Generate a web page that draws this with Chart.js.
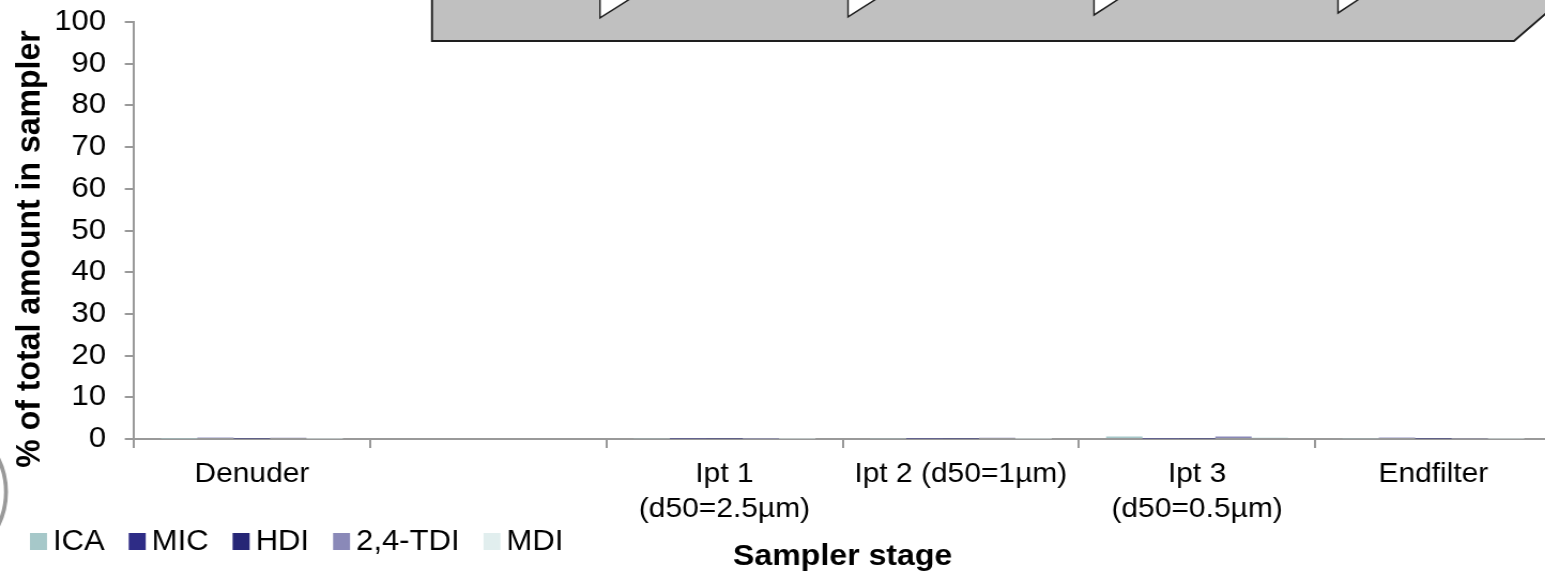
<!DOCTYPE html>
<html lang="en">
<head>
<meta charset="UTF-8">
<title>Sampler stage distribution</title>
<script src="https://cdn.jsdelivr.net/npm/chart.js"></script>
<style>
  html, body { margin: 0; padding: 0; background: #fff; overflow: hidden; }
  /* the original figure is slightly stretched horizontally */
  #wrap { width: 1458px; height: 576px; transform: scaleX(1.07); transform-origin: 0 0; }
</style>
</head>
<body>
<div id="wrap"><canvas id="chart" width="1458" height="576"></canvas></div>
<script>
// categories (sampler stages)
const stages = [
  'Denuder',
  '',
  ['Ipt 1', '(d50=2.5\u00b5m)'],
  'Ipt 2 (d50=1\u00b5m)',
  ['Ipt 3', '(d50=0.5\u00b5m)'],
  'Endfilter'
];

// % of total amount per compound (all near zero in the picture)
const ica = [0.1, null, 0.2, 0.2, 0.6, 0.2];
const mic = [0.3, null, 0.1, 0.1, 0.1, 0.3];
const hdi = [0.1, null, 0.1, 0.1, 0.1, 0.1];
const tdi = [0.3, null, 0.1, 0.3, 0.6, 0.2];
const mdi = [0.1, null, 0.1, 0.1, 0.4, 0.1];

const seriesNames = ['ICA', 'MIC', 'HDI', '2,4-TDI', 'MDI'];
const seriesColors = ['#a6c8c9', '#2e2c86', '#262676', '#8a89b8', '#e1eeee'];
const yTicks = { min: 0, max: 100, step: 10 };

const FONT = '"Liberation Sans", Arial, sans-serif';
const S = 1.07; // horizontal stretch of the wrapper

// decoration: grey banner with arrow notches at the top, arc at left edge
const decoPlugin = {
  id: 'deco',
  afterDraw(chart) {
    const ctx = chart.ctx;
    ctx.save();
    ctx.scale(1 / S, 1); // draw in screen pixels
    ctx.fillStyle = '#c0c0c0';
    ctx.strokeStyle = '#1e1e1e';
    ctx.lineWidth = 2;
    const banner = () => {
      ctx.beginPath();
      ctx.moveTo(432, -3);
      ctx.lineTo(432, 41);
      ctx.lineTo(1514, 41);
      ctx.lineTo(1565, -3);
    };
    banner(); ctx.closePath(); ctx.fill();
    banner(); ctx.stroke();

    [[600, 18], [848, 17], [1094, 15], [1338, 13]].forEach(([x, y]) => {
      const tri = () => {
        ctx.beginPath();
        ctx.moveTo(x, -2);
        ctx.lineTo(x, y);
        ctx.lineTo(x + y * 1.75, -2);
      };
      ctx.fillStyle = '#fff';
      tri(); ctx.closePath(); ctx.fill();
      ctx.lineWidth = 1.5;
      tri(); ctx.stroke();
    });

    ctx.strokeStyle = '#999';
    ctx.lineWidth = 4;
    ctx.beginPath();
    ctx.arc(-70, 492, 76, -0.55, 0.55);
    ctx.stroke();
    ctx.restore();
  }
};

// y axis title and legend row, drawn in canvas units
const textPlugin = {
  id: 'texts',
  afterDraw(chart) {
    const ctx = chart.ctx;
    ctx.save();
    ctx.translate(28, 249);
    ctx.rotate(-Math.PI / 2);
    ctx.font = 'bold 32px ' + FONT;
    ctx.fillStyle = '#000';
    ctx.textAlign = 'center';
    ctx.textBaseline = 'middle';
    ctx.fillText('% of total amount in sampler', 0, 0);
    ctx.restore();

    ctx.save();
    ctx.font = '29px ' + FONT;
    ctx.textBaseline = 'middle';
    ctx.textAlign = 'left';
    let x = 30 / S;
    const yc = 542;
    chart.data.datasets.forEach(ds => {
      ctx.fillStyle = ds.backgroundColor;
      ctx.fillRect(x, yc - 9, 17 / S, 17);
      x += 23 / S;
      ctx.fillStyle = '#000';
      ctx.fillText(ds.label, x, yc);
      x += ctx.measureText(ds.label).width + 24 / S;
    });
    ctx.restore();
  }
};

const seriesData = [ica, mic, hdi, tdi, mdi];

new Chart(document.getElementById('chart'), {
  type: 'bar',
  data: {
    labels: stages,
    datasets: seriesNames.map((name, i) => ({
      label: name,
      data: seriesData[i],
      backgroundColor: seriesColors[i],
      borderWidth: 0
    }))
  },
  options: {
    responsive: false,
    animation: false,
    devicePixelRatio: 1,
    categoryPercentage: 0.77,
    barPercentage: 1.0,
    layout: { padding: { top: 22, right: 8, left: 0, bottom: 0 } },
    plugins: {
      legend: { display: false },
      tooltip: { enabled: false }
    },
    scales: {
      x: {
        offset: true,
        afterFit(scale) {
          scale.height = 137;
          scale.paddingLeft = 0;
          scale.paddingRight = 0;
        },
        grid: {
          display: true, drawOnChartArea: false, drawTicks: true,
          tickLength: 9, offset: true, color: '#999', lineWidth: 2
        },
        border: { display: true, color: '#999', width: 2 },
        ticks: {
          color: '#000', font: { family: FONT, size: 28, lineHeight: 1.25 },
          padding: 9, maxRotation: 0, autoSkip: false
        },
        title: {
          display: true, text: 'Sampler stage', color: '#000',
          font: { family: FONT, size: 30, weight: 'bold' },
          padding: { top: 0, bottom: 1 }
        }
      },
      y: {
        min: yTicks.min,
        max: yTicks.max,
        afterFit(scale) {
          scale.width = 125;
          scale.paddingTop = 0;
          scale.paddingBottom = 0;
        },
        grid: {
          display: true, drawOnChartArea: false, drawTicks: true,
          tickLength: 8.4, color: '#999', lineWidth: 2
        },
        border: { display: true, color: '#999', width: 2 },
        ticks: {
          stepSize: yTicks.step, color: '#000',
          font: { family: FONT, size: 29 }, padding: 17.5
        }
      }
    }
  },
  plugins: [decoPlugin, textPlugin]
});
</script>
</body>
</html>
